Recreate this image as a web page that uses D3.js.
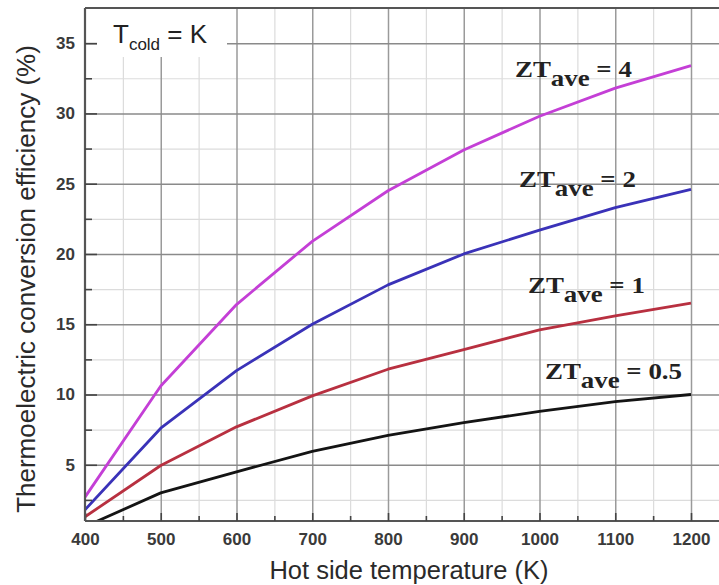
<!DOCTYPE html>
<html>
<head>
<meta charset="utf-8">
<script src="https://cdn.jsdelivr.net/npm/d3@7"></script>
<style>
  html, body { margin: 0; padding: 0; background: #fff; }
  svg { display: block; }
</style>
</head>
<body>
<svg id="chart" width="719" height="585"></svg>
<script>
// Hot-side temperatures (K) at which efficiency is tabulated
const hotTemps = [400, 500, 600, 700, 800, 900, 1000, 1100, 1200];

// Conversion efficiency (%) for each average figure of merit
const zt4   = [2.7, 10.6, 16.4, 20.9, 24.5, 27.4, 29.8, 31.8, 33.4];
const zt2   = [1.8, 7.6, 11.7, 15.0, 17.8, 20.0, 21.7, 23.3, 24.6];
const zt1   = [1.3, 4.95, 7.7, 9.9, 11.8, 13.2, 14.6, 15.6, 16.5];
const zt05  = [0.6, 3.0, 4.5, 5.95, 7.1, 8.0, 8.8, 9.5, 10.0];

const seriesNames = ["4", "2", "1", "0.5"];
const seriesValues = [zt4, zt2, zt1, zt05];
const seriesColors = ["#c43fd6", "#3a32b8", "#b83040", "#141414"];

// Tick values
const xTicks = [400, 500, 600, 700, 800, 900, 1000, 1100, 1200];
const xMinor = [450, 550, 650, 750, 850, 950, 1050, 1150];
const yTicks = [5, 10, 15, 20, 25, 30, 35];
const yMinor = [2.5, 7.5, 12.5, 17.5, 22.5, 27.5, 32.5];

const svg = d3.select("#chart");
const padL = 85, padT = 8, padR = 722, padB = 521;

const x = d3.scaleLinear().domain([400, 1240]).range([padL, padL + 840 * 0.7575]);
const y = d3.scaleLinear().domain([1, 37.5]).range([padB, padT]);

svg.append("defs").append("clipPath").attr("id", "plotClip")
  .append("rect").attr("x", padL).attr("y", padT).attr("width", padR - padL).attr("height", padB - padT);

// minor grid
svg.append("g").attr("transform", `translate(0,${padB})`)
  .call(d3.axisBottom(x).tickValues(xMinor).tickSize(-(padB - padT)).tickFormat(""))
  .call(g => { g.select(".domain").remove(); g.selectAll("line").attr("stroke", "#dcdcdc").attr("stroke-width", 1.2); });
svg.append("g").attr("transform", `translate(${padL},0)`)
  .call(d3.axisLeft(y).tickValues(yMinor).tickSize(-(padR - padL)).tickFormat(""))
  .call(g => { g.select(".domain").remove(); g.selectAll("line").attr("stroke", "#dcdcdc").attr("stroke-width", 1.2); });

// major grid
svg.append("g").attr("transform", `translate(0,${padB})`)
  .call(d3.axisBottom(x).tickValues(xTicks.slice(1)).tickSize(-(padB - padT)).tickFormat(""))
  .call(g => { g.select(".domain").remove(); g.selectAll("line").attr("stroke", "#9a9a9a").attr("stroke-width", 1.5); });
svg.append("g").attr("transform", `translate(${padL},0)`)
  .call(d3.axisLeft(y).tickValues(yTicks).tickSize(-(padR - padL)).tickFormat(""))
  .call(g => { g.select(".domain").remove(); g.selectAll("line").attr("stroke", "#8a8a8a").attr("stroke-width", 1.5); });

// white box behind the cold-side note
svg.append("rect").attr("x", 97).attr("y", padT + 1).attr("width", 130).attr("height", 48).attr("fill", "#fff");

// curves
const line = d3.line().x((d, i) => x(hotTemps[i])).y(d => y(d));
const curves = svg.append("g").attr("clip-path", "url(#plotClip)");
seriesValues.forEach((vals, k) => {
  curves.append("path").datum(vals)
    .attr("d", line)
    .attr("fill", "none")
    .attr("stroke", seriesColors[k])
    .attr("stroke-width", 2.8)
    .attr("stroke-linejoin", "round");
});

// axes: x
const xAxis = svg.append("g").attr("transform", `translate(0,${padB})`)
  .call(d3.axisBottom(x).tickValues(xTicks).tickFormat(d3.format("d"))
    .tickSizeInner(-8).tickSizeOuter(0).tickPadding(12));
xAxis.select(".domain").attr("d", `M${padL},0H${padR}`).attr("stroke", "#555").attr("stroke-width", 2.2);
xAxis.selectAll(".tick line").attr("stroke", "#444").attr("stroke-width", 1.6);
xAxis.selectAll("text").attr("font-family", "Liberation Sans, Arial, sans-serif")
  .attr("font-size", 17).attr("font-weight", "bold").attr("fill", "#3a3a3a");
svg.append("g").attr("transform", `translate(0,${padB})`)
  .call(d3.axisBottom(x).tickValues(xMinor).tickSize(-5).tickFormat(""))
  .call(g => { g.select(".domain").remove(); g.selectAll("line").attr("stroke", "#444").attr("stroke-width", 1.6); });

// axes: y
const yAxis = svg.append("g").attr("transform", `translate(${padL},0)`)
  .call(d3.axisLeft(y).tickValues(yTicks).tickSizeInner(-12).tickSizeOuter(0).tickPadding(10));
yAxis.select(".domain").attr("d", `M0,${padT}V${padB}`).attr("stroke", "#555").attr("stroke-width", 2.2);
yAxis.selectAll(".tick line").attr("stroke", "#444").attr("stroke-width", 1.6);
yAxis.selectAll("text").attr("font-family", "Liberation Sans, Arial, sans-serif")
  .attr("font-size", 17).attr("font-weight", "bold").attr("fill", "#3a3a3a");
svg.append("g").attr("transform", `translate(${padL},0)`)
  .call(d3.axisLeft(y).tickValues(yMinor).tickSize(-7).tickFormat(""))
  .call(g => { g.select(".domain").remove(); g.selectAll("line").attr("stroke", "#444").attr("stroke-width", 1.6); });

// top frame
svg.append("line").attr("x1", padL).attr("x2", 719).attr("y1", padT).attr("y2", padT)
  .attr("stroke", "#555").attr("stroke-width", 2.2);

// axis titles
svg.append("text").attr("x", 409).attr("y", 579).attr("text-anchor", "middle")
  .attr("font-family", "Liberation Sans, Arial, sans-serif").attr("font-size", 25.5).attr("fill", "#2a2a2a")
  .text("Hot side temperature (K)");
svg.append("text").attr("transform", "translate(35,279) rotate(-90)").attr("text-anchor", "middle")
  .attr("font-family", "Liberation Sans, Arial, sans-serif").attr("font-size", 26).attr("fill", "#2a2a2a")
  .text("Thermoelectric conversion efficiency (%)");

// cold-side note
const note = svg.append("text").attr("x", 113).attr("y", 43)
  .attr("font-family", "Liberation Sans, Arial, sans-serif").attr("font-size", 26).attr("fill", "#222");
note.append("tspan").text("T");
note.append("tspan").attr("font-size", 17).attr("dy", 7).text("cold");
note.append("tspan").attr("dy", -7).text(" = K");

// series labels
const labelPos = [[515, 77], [519, 187], [528, 293], [545, 379]];
seriesNames.forEach((name, k) => {
  const g = svg.append("g").attr("transform", `translate(${labelPos[k][0]},${labelPos[k][1]}) scale(1.12,1)`);
  const t = g.append("text")
    .attr("font-family", "Liberation Serif, Times New Roman, serif").attr("font-weight", "bold")
    .attr("font-size", 24).attr("fill", "#222");
  t.append("tspan").text("ZT");
  t.append("tspan").attr("dy", 9).attr("font-size", 24).text("ave");
  t.append("tspan").attr("dy", -9).text(" = " + name);
});
</script>
</body>
</html>
